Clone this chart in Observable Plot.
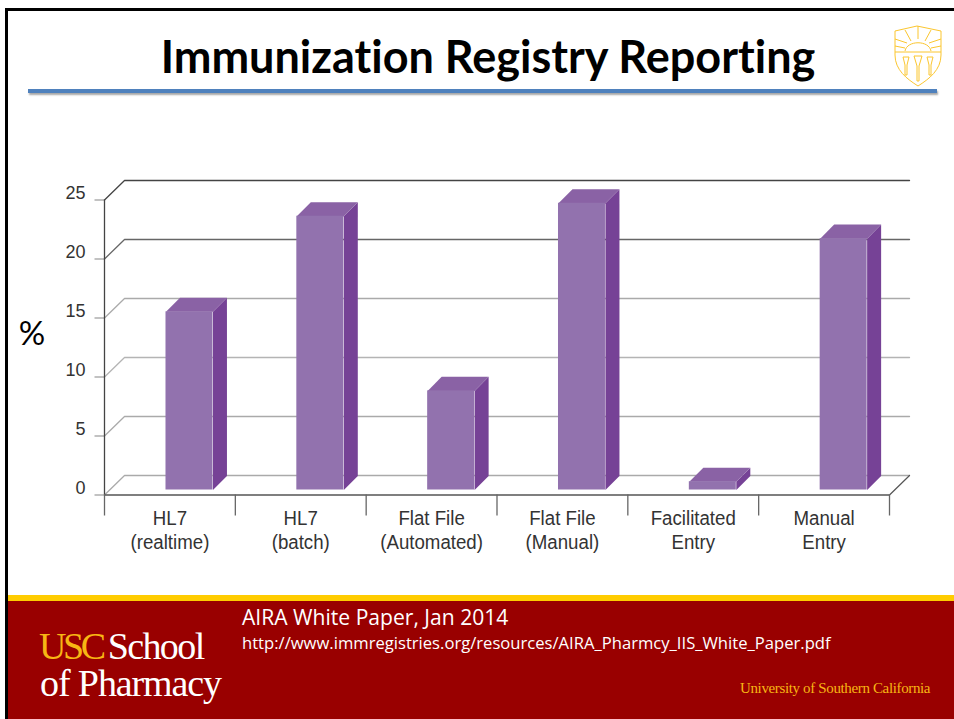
<!DOCTYPE html>
<html>
<head>
<meta charset="utf-8">
<script src="https://cdn.jsdelivr.net/npm/d3@7"></script>
<script src="https://cdn.jsdelivr.net/npm/@observablehq/plot@0.6"></script>
<style>
html,body{margin:0;padding:0;background:#fff;width:954px;height:719px;overflow:hidden}
.abs{position:absolute;white-space:nowrap}
#chart{position:absolute;left:0;top:0}
#chart svg{display:block;background:transparent}
</style>
</head>
<body>
<div class="abs" style="left:5px;top:8px;width:2.5px;height:711px;background:#000"></div>
<div class="abs" style="left:5px;top:8px;width:949px;height:3px;background:#000"></div>
<div class="abs" id="title" style="left:0;top:26px;width:976px;text-align:center;font:700 45px Lato,sans-serif;font-variant-ligatures:none;color:#000;line-height:60px">Immunization Registry Reporting</div>
<div class="abs" style="left:28px;top:89px;width:909px;height:4px;background:#4f81bd;box-shadow:1px 2px 2px rgba(0,0,0,.35)"></div>
<svg class="abs" style="left:893px;top:25px" width="50" height="62" viewBox="0 0 50 62" fill="none" stroke="#fbc62f" stroke-width="1">
<path d="M2 6L24 1L48 6V30C48 45 36 54 25 61C14 54 2 45 2 30Z"/>
<path d="M2 14L14 18M2 21L12 23M48 14L36 18M48 21L38 23M12 5L18 16M38 5L32 16M25 1V14M2 27H48"/>
<path d="M12 26C14 15 36 15 38 26"/>
<path d="M10 32H16L14 40V50H12V40ZM21 31H29L26 41V56H24V41ZM34 32H40L38 40V50H36V40Z"/>
</svg>
<div id="chart"></div>
<div class="abs" style="left:7.5px;top:595px;width:947px;height:6px;background:#ffcc00"></div>
<div class="abs" style="left:7.5px;top:601px;width:947px;height:118px;background:#990000"></div>
<div class="abs" style="left:39px;top:629px;font:38px 'Liberation Serif',serif;letter-spacing:-1.6px;line-height:34px;color:#fff"><span style="color:#f7b614;letter-spacing:-3.4px;margin-right:-3px">USC</span> School</div>
<div class="abs" style="left:40px;top:666px;font:38px 'Liberation Serif',serif;letter-spacing:-1.1px;line-height:34px;color:#fff">of Pharmacy</div>
<div class="abs" style="left:242px;top:603px;font:21.1px 'Open Sans',sans-serif;line-height:28px;color:#fff">AIRA White Paper, Jan 2014</div>
<div class="abs" style="left:242px;top:631px;font:16.63px 'Open Sans',sans-serif;line-height:24px;color:#fff">http://www.immregistries.org/resources/AIRA_Pharmcy_IIS_White_Paper.pdf</div>
<div class="abs" style="left:740px;top:678px;font:15px 'Liberation Serif',serif;letter-spacing:-.36px;line-height:20px;color:#f7b614">University of Southern California</div>
<script>
const categories = ["HL7\n(realtime)", "HL7\n(batch)", "Flat File\n(Automated)", "Flat File\n(Manual)", "Facilitated\nEntry", "Manual\nEntry"];
const values = [15.1, 23.2, 8.4, 24.3, 0.7, 21.3];
const yTicks = [0, 5, 10, 15, 20, 25];
const tickColors = ["#aaa", "#aaa", "#b4b4b4", "#aaa", "#666", "#444"];

// 3-D look of the spreadsheet chart, expressed in data units
const wallDx = 0.153, wallDy = 1.653;   // depth of the back wall
const barDx = 0.107, barDy = 1.19;      // depth of each bar
const barL = 0.47, barW = 0.359;        // bar position inside its band
const lift = -5;                        // pixels the bars stand back from the front plane

const bars = values.map((v, i) => ({i, v, x1: i + barL, x2: i + barL + barW}));

const wall = yTicks.flatMap((t, k) => [
  {x: 0, y: t, k},
  {x: wallDx, y: t + wallDy, k},
  {x: 6 + wallDx, y: t + wallDy, k}
]);
const floorEdge = [{x: 6, y: 0}, {x: 6 + wallDx, y: wallDy}];

const topFaces = bars.flatMap(b => [
  {x: b.x1, y: b.v, i: b.i},
  {x: b.x2, y: b.v, i: b.i},
  {x: b.x2 + barDx, y: b.v + barDy, i: b.i},
  {x: b.x1 + barDx, y: b.v + barDy, i: b.i}
]);
const sideFaces = bars.flatMap(b => [
  {x: b.x2, y: 0, i: b.i},
  {x: b.x2, y: b.v, i: b.i},
  {x: b.x2 + barDx, y: b.v + barDy, i: b.i},
  {x: b.x2 + barDx, y: barDy, i: b.i}
]);

const narrow = "'Liberation Sans Narrow','Liberation Sans',sans-serif";

const plot = Plot.plot({
  width: 954,
  height: 590,
  marginLeft: 104,
  marginRight: 65,
  marginTop: 199.5,
  marginBottom: 95.5,
  style: {background: "transparent", overflow: "visible"},
  x: {type: "linear", domain: [0, 6], axis: null},
  y: {type: "linear", domain: [0, 25], axis: null},
  marks: [
    Plot.line(wall, {x: "x", y: "y", z: "k", stroke: d => tickColors[d.k], strokeWidth: 1.3, curve: "linear"}),
    Plot.line(floorEdge, {x: "x", y: "y", stroke: "#555", strokeWidth: 1.2}),
    Plot.ruleY(yTicks, {x1: -9.5 / 130.83, x2: 0, stroke: "#999", strokeWidth: 1.2}),
    Plot.ruleX([0], {y1: 0, y2: 25, stroke: "#444", strokeWidth: 1.3}),
    Plot.ruleY([0], {x1: 0, x2: 6, stroke: "#555", strokeWidth: 1.4}),
    Plot.ruleX(d3.range(7), {y1: 0, y2: -21 / 11.8, stroke: "#666", strokeWidth: 1.3}),
    Plot.axisY({ticks: yTicks, anchor: "left", tickSize: 0, tickPadding: 19, dy: -7, label: null,
      fontSize: 18, fontFamily: narrow, color: "#333", fill: "#333"}),
    Plot.text(categories, {
      x: (d, i) => i + 0.5, y: 0, dy: 34, text: d => d, lineHeight: 1.17,
      fontSize: 21, fontFamily: narrow, fill: "#333", className: "cat-label"
    }),
    Plot.text(["%"], {x: -0.555, y: 13.6, text: d => d, fontSize: 33, fontFamily: "Lato,sans-serif", fill: "#000"}),
    Plot.line(sideFaces, {x: "x", y: "y", z: "i", fill: "#764296", stroke: "none", dy: lift}),
    Plot.line(topFaces, {x: "x", y: "y", z: "i", fill: "#8a62a5", stroke: "none", dy: lift}),
    Plot.rectY(bars, {x1: "x1", x2: "x2", y1: 0, y2: "v", fill: "#9272ae", dy: lift})
  ]
});
// the reference uses a condensed face: narrow the category labels horizontally
plot.querySelectorAll(".cat-label text").forEach(t => {
  t.setAttribute("transform", (t.getAttribute("transform") || "") + " scale(0.89,1)");
});
document.getElementById("chart").appendChild(plot);
</script>
</body>
</html>
